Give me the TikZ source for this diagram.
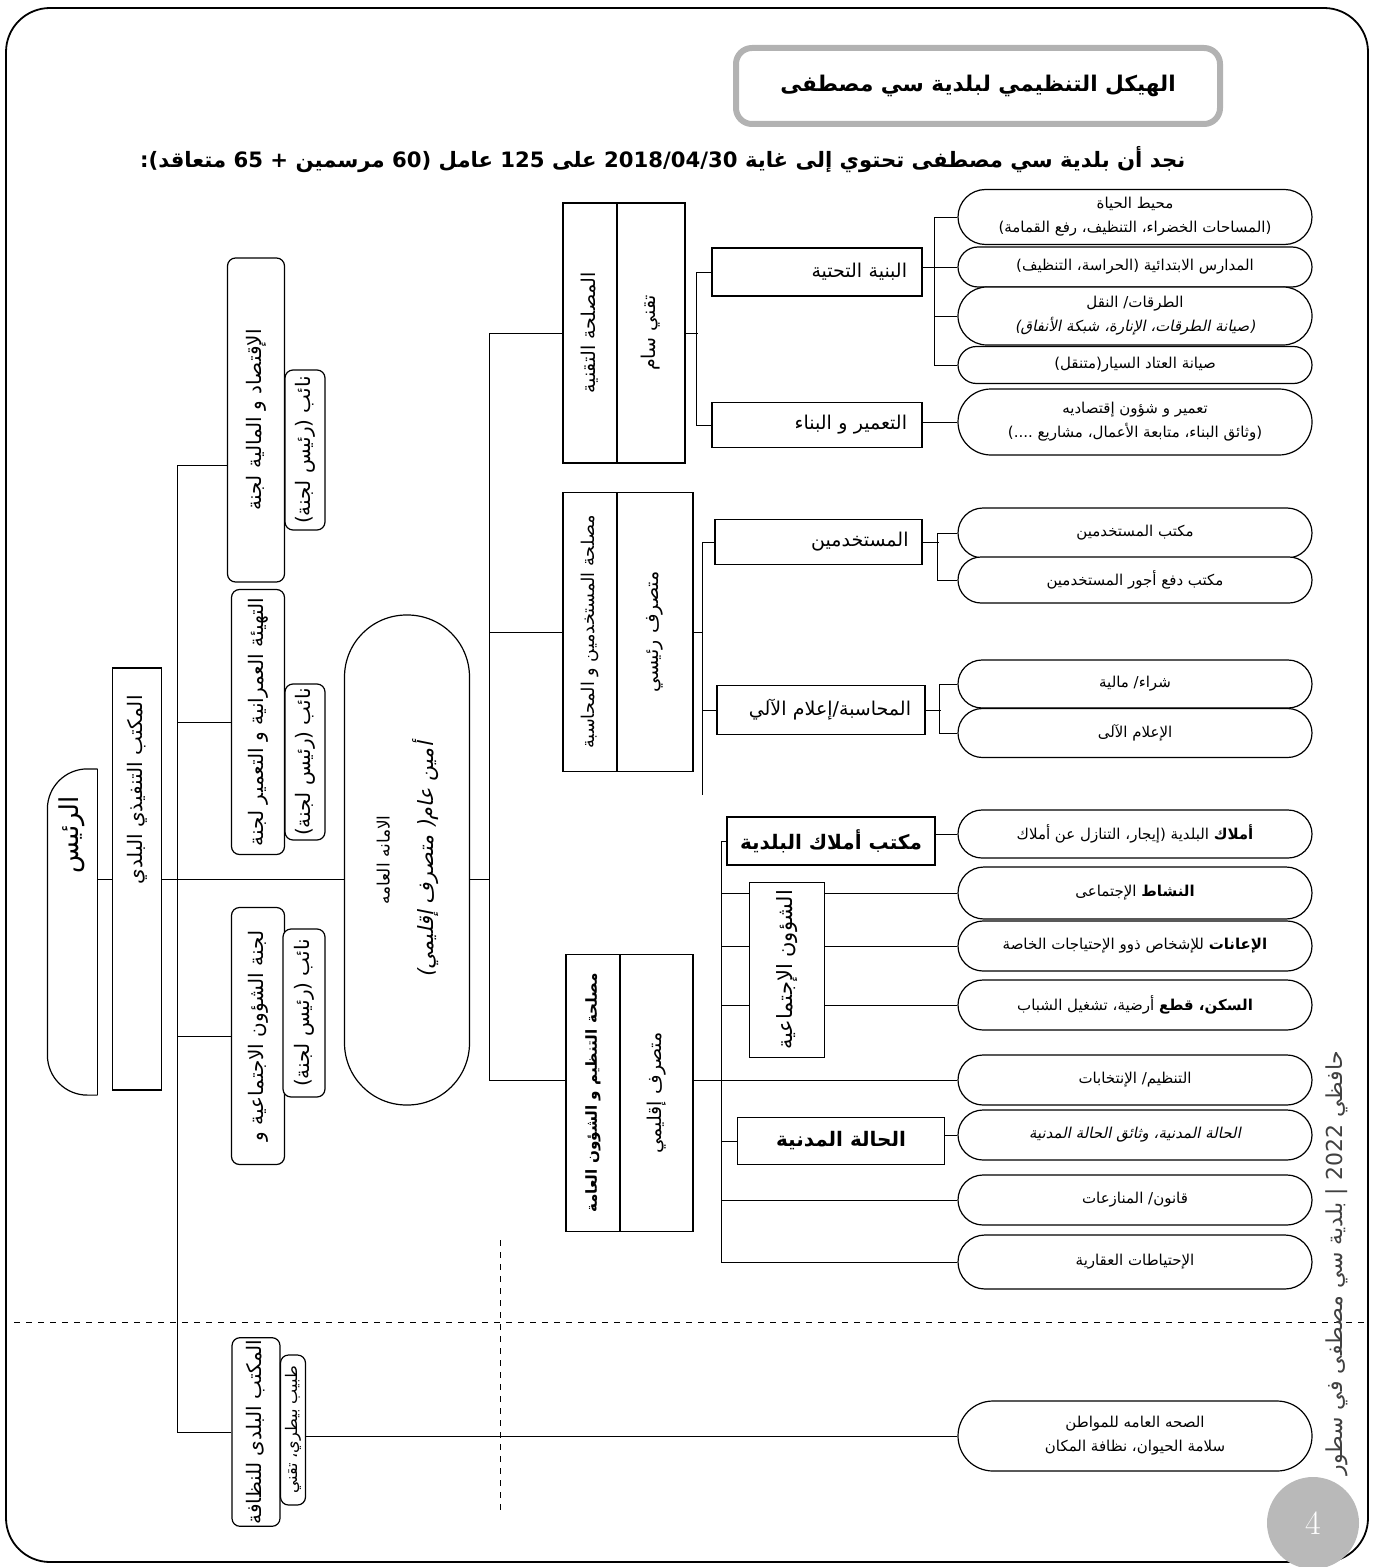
\documentclass[tikz,border=0pt]{standalone}
\usepackage{fontspec}
\usepackage{graphicx}
\usetikzlibrary{positioning,backgrounds}
\TeXXeTstate=1
\newfontfamily\arabicfont[Script=Arabic]{DejaVu Sans}
\newfontfamily\arabicslant[Script=Arabic,FakeSlant=0.2]{DejaVu Sans}
\newcommand{\ar}[1]{{\arabicfont\beginR #1\endR}}
\newcommand{\ars}[1]{{\arabicslant\beginR #1\endR}}
\newcommand{\vtext}[1]{\rotatebox{90}{\ar{#1}}}

\tikzset{
  box/.style={draw, fill=white, inner sep=2pt, font=\fontsize{9.5}{12}\selectfont},
  rbox/.style={box, text width=90pt, align=right},
  col/.style={box, inner sep=1pt, font=\fontsize{9.5}{12}\selectfont},
  lbox/.style={box, rounded corners=4pt, inner sep=1pt, font=\fontsize{10}{12}\selectfont},
  oval/.style={draw, fill=white, rounded corners=#1, minimum height=2*#1,
    minimum width=177pt, inner sep=1pt, align=center,
    font=\fontsize{7.5}{12}\selectfont},
}

\begin{document}
\begin{tikzpicture}[x=0.5pt, y=-0.5pt, line width=0.6pt]
\useasboundingbox (0,0) rectangle (1373,1567);
\draw[line width=0.9pt, rounded corners=22pt] (6,8) rectangle (1368,1562);

% title
\node[draw=gray!60, line width=3pt, rounded corners=8pt, minimum width=242pt, minimum height=38pt,
  font=\bfseries\fontsize{10.8}{13}\selectfont] (title) at (978,86) {\ar{الهيكل التنظيمي لبلدية سي مصطفى}};
\node[anchor=east, inner sep=0pt, font=\bfseries\fontsize{10.6}{13}\selectfont] (intro) at (1186,160)
  {\ar{نجد أن بلدية سي مصطفى تحتوي إلى غاية 2018/04/30 على 125 عامل (60 مرسمين + 65 متعاقد):}};

% ovals
\node[oval=13.75pt] (ov1) at (1135,217) {\ar{محيط الحياة}\\\ar{(المساحات الخضراء، التنظيف، رفع القمامة)}};
\node[oval=10pt] (ov2) at (1135,267) {\ar{المدارس الابتدائية (الحراسة، التنظيف)}};
\node[oval=14.5pt] (ov3) at (1135,316) {\ar{الطرقات/ النقل}\\\ars{(صيانة الطرقات، الإنارة، شبكة الأنفاق)}};
\node[oval=9.25pt] (ov4) at (1135,365) {\ar{صيانة العتاد السيار(متنقل)}};
\node[oval=16.5pt] (ov5) at (1135,422) {\ar{تعمير و شؤون إقتصاديه}\\\ar{(وثائق البناء، متابعة الأعمال، مشاريع ....)}};
\node[oval=12.5pt] (ov6) at (1135,533) {\ar{مكتب المستخدمين}};
\node[oval=11.5pt] (ov7) at (1135,580) {\ar{مكتب دفع أجور المستخدمين}};
\node[oval=12pt] (ov8) at (1135,684) {\ar{شراء/ مالية}};
\node[oval=12.25pt] (ov9) at (1135,733) {\ar{الإعلام الآلى}};
\node[oval=12pt] (ov10) at (1135,834) {\ar{\textbf{أملاك} البلدية (إيجار، التنازل عن أملاك}};
\node[oval=13pt] (ov11) at (1135,893) {\ar{\textbf{النشاط} الإجتماعى}};
\node[oval=12.5pt] (ov12) at (1135,946) {\ar{\textbf{الإعانات} للإشخاص ذوو الإحتياجات الخاصة}};
\node[oval=12.5pt] (ov13) at (1135,1005) {\ar{\textbf{السكن، قطع} أرضية، تشغيل الشباب}};
\node[oval=12.5pt] (ov14) at (1135,1080) {\ar{التنظيم/ الإنتخابات}};
\node[oval=12.5pt] (ov15) at (1135,1135) {\ars{الحالة المدنية، وثائق الحالة المدنية}};
\node[oval=12.5pt] (ov16) at (1135,1200) {\ar{قانون/ المنازعات}};
\node[oval=13.5pt] (ov17) at (1135,1262) {\ar{الإحتياطات العقارية}};
\node[oval=17.5pt] (ov18) at (1135,1436) {\ar{الصحه العامه للمواطن}\\\ar{سلامة الحيوان، نظافة المكان}};

% middle boxes
\node[rbox, minimum width=105pt, minimum height=24pt] (infra) at (817,272) {\ar{البنية التحتية}};
\node[rbox, minimum width=105pt, minimum height=22.5pt] (build) at (817,425) {\ar{التعمير و البناء}};
\node[rbox, minimum width=103.5pt, minimum height=22.5pt] (staff) at (818.5,542) {\ar{المستخدمين}};
\node[rbox, minimum width=104pt, minimum height=24.5pt] (acct) at (821,710) {\ar{المحاسبة/إعلام الآلي}};
\node[box, minimum width=104pt, minimum height=24pt, font=\bfseries\fontsize{10}{12}\selectfont] (prop) at (831,841) {\ar{مكتب أملاك البلدية}};
\node[box, minimum width=37.5pt, minimum height=87.5pt, font=\fontsize{10.5}{12}\selectfont] (social) at (787,970) {\vtext{الشؤون الإجتماعية}};
\node[box, minimum width=103.5pt, minimum height=23.5pt, font=\bfseries\fontsize{10}{12}\selectfont] (civil) at (841,1141) {\ar{الحالة المدنية}};

% services
\node[col, minimum width=27pt, minimum height=130pt] (techA) at (590,333) {\vtext{المصلحة التقنية}};
\node[col, minimum width=34pt, minimum height=130pt] (techB) at (651,333) {\vtext{تقني سام}};
\node[col, minimum width=27pt, minimum height=139.5pt, font=\fontsize{8.8}{11}\selectfont] (hrA) at (590,632) {\vtext{مصلحة المستخدمين و المحاسبة}};
\node[col, minimum width=38pt, minimum height=139.5pt] (hrB) at (655,632) {\vtext{متصرف رئيسي}};
\node[col, minimum width=27pt, minimum height=138.5pt, font=\bfseries\fontsize{7.6}{10}\selectfont] (regA) at (593,1093) {\vtext{مصلحة التنظيم و الشؤون العامة}};
\node[col, minimum width=36.5pt, minimum height=138.5pt] (regB) at (656.5,1093) {\vtext{متصرف إقليمي}};

% secretariat
\node[draw, fill=white, rounded corners=31pt, minimum width=62.5pt, minimum height=245pt] (sec) at (407,860)
  {\rotatebox{90}{\begin{tabular}{c}{\fontsize{8.5}{10}\selectfont\ar{الامانه العامه}}\\[8pt]{\fontsize{10.5}{12}\selectfont\ars{أمين عام( متصرف إقليمي)}}\end{tabular}}};

% committees
\node[lbox, minimum width=28.5pt, minimum height=162pt] (b1A) at (256,420) {\vtext{الإقتصاد و المالية لجنة}};
\node[lbox, minimum width=20pt, minimum height=80pt] (b1B) at (305,450) {\vtext{نائب (رئيس لجنة)}};
\node[lbox, minimum width=26.5pt, minimum height=132.5pt] (b2A) at (258,722) {\vtext{التهيئة العمرانية و التعمير لجنة}};
\node[lbox, minimum width=20pt, minimum height=78pt] (b2B) at (305,762) {\vtext{نائب (رئيس لجنة)}};
\node[lbox, minimum width=26.5pt, minimum height=128.5pt] (b3A) at (258,1036) {\vtext{لجنة الشؤون الاجتماعية و}};
\node[lbox, minimum width=21pt, minimum height=84pt] (b3B) at (304,1013) {\vtext{نائب (رئيس لجنة)}};
\node[lbox, minimum width=24pt, minimum height=92.5pt] (b4A) at (256,1432) {\vtext{المكتب البلدى للنظافة}};
\node[lbox, minimum width=12.5pt, minimum height=75pt, font=\fontsize{8}{10}\selectfont] (b4B) at (293,1430) {\vtext{طبيب بيطري، تقني}};

% executive and president
\node[box, minimum width=24.5pt, minimum height=211pt] (exec) at (137,879) {};
\node[inner sep=0pt, font=\fontsize{10}{12}\selectfont] (exectxt) at (137,790) {\vtext{المكتب التنفيذي البلدي}};
\node[minimum width=24.5pt, minimum height=162.5pt] (pres) at (72.5,932) {};
\draw[rounded corners=20pt] (pres.north east) -- (pres.north west) -- (pres.south west) -- (pres.south east);
\draw (pres.south east) -- (pres.north east);
\node[inner sep=0pt, font=\fontsize{13}{14}\selectfont] (prestxt) at (72,835) {\vtext{الرئيس}};

% page number and side note
\node[circle, fill=gray!55, minimum size=46pt, inner sep=0pt, text=white, font=\fontsize{17}{17}\selectfont] (pg) at (1313,1523) {4};
\node[rotate=90, inner sep=0pt, text=black!75, font=\fontsize{11}{13}\selectfont] (side) at (1337,1263) {\ar{حافظي 2022 | بلدية سي مصطفى في سطور}};

\begin{pgfonlayer}{background}
% technical
\draw (infra.east |- ov2) -- (ov2.west);
\draw (ov1.west) -- ++(-23,0) |- (ov4.west);
\draw (ov3.west) -- ++(-23,0);
\draw (build.east |- ov5) -- (ov5.west);
\draw (infra.west) -- ++(-15,0) |- (build.west);
\draw (techB.east) -- ++(12,0);
% staff
\draw (staff.east) -- ++(16,0);
\draw (ov6.west) -- ++(-20,0) |- (ov7.west);
\draw (acct.east) -- ++(15,0);
\draw (ov8.west) -- ++(-18,0) |- (ov9.west);
\draw (staff.west) -- ++(-12,0) coordinate (hsp) -- ++(0,253);
\draw (acct.west) -- (acct.west -| hsp);
\draw (hrB.east) -- (hrB.east -| hsp);
% regulation
\draw (prop.west) -- ++(-5,0) coordinate (rsp) |- (ov17.west);
\draw (prop.east |- ov10) -- (ov10.west);
\draw (ov11.west) -- (ov11.west -| rsp);
\draw (ov12.west) -- (ov12.west -| rsp);
\draw (ov13.west) -- (ov13.west -| rsp);
\draw (regB.east |- ov14) -- (ov14.west);
\draw (civil.west) -- (civil.west -| rsp);
\draw (civil.east |- ov15) -- (ov15.west);
\draw (ov16.west) -- (ov16.west -| rsp);
% main spine
\draw (techA.west) -- ++(-73,0) coordinate (msp) |- (regA.west |- ov14);
\draw (hrA.west) -- (hrA.west -| msp);
\draw (exec.east) -- (exec.east -| sec.west);
\draw (exec.east -| sec.east) -- (exec.east -| msp);
% committees
\draw ([yshift=-22.5pt]b1A.west) -- ++(-50,0) coordinate (lsp) |- (b4A.west);
\draw (b2A.west) -- (b2A.west -| lsp);
\draw (b3A.west) -- (b3A.west -| lsp);
\draw (exec.west) -- (exec.west -| pres.east);
\draw (b4B.east |- ov18) -- (ov18.west);
% separators
\draw[dashed] (14,1322) -- (1365,1322);
\draw[dashed] (500,1240) -- (500,1515);
\end{pgfonlayer}
\end{tikzpicture}
\end{document}
